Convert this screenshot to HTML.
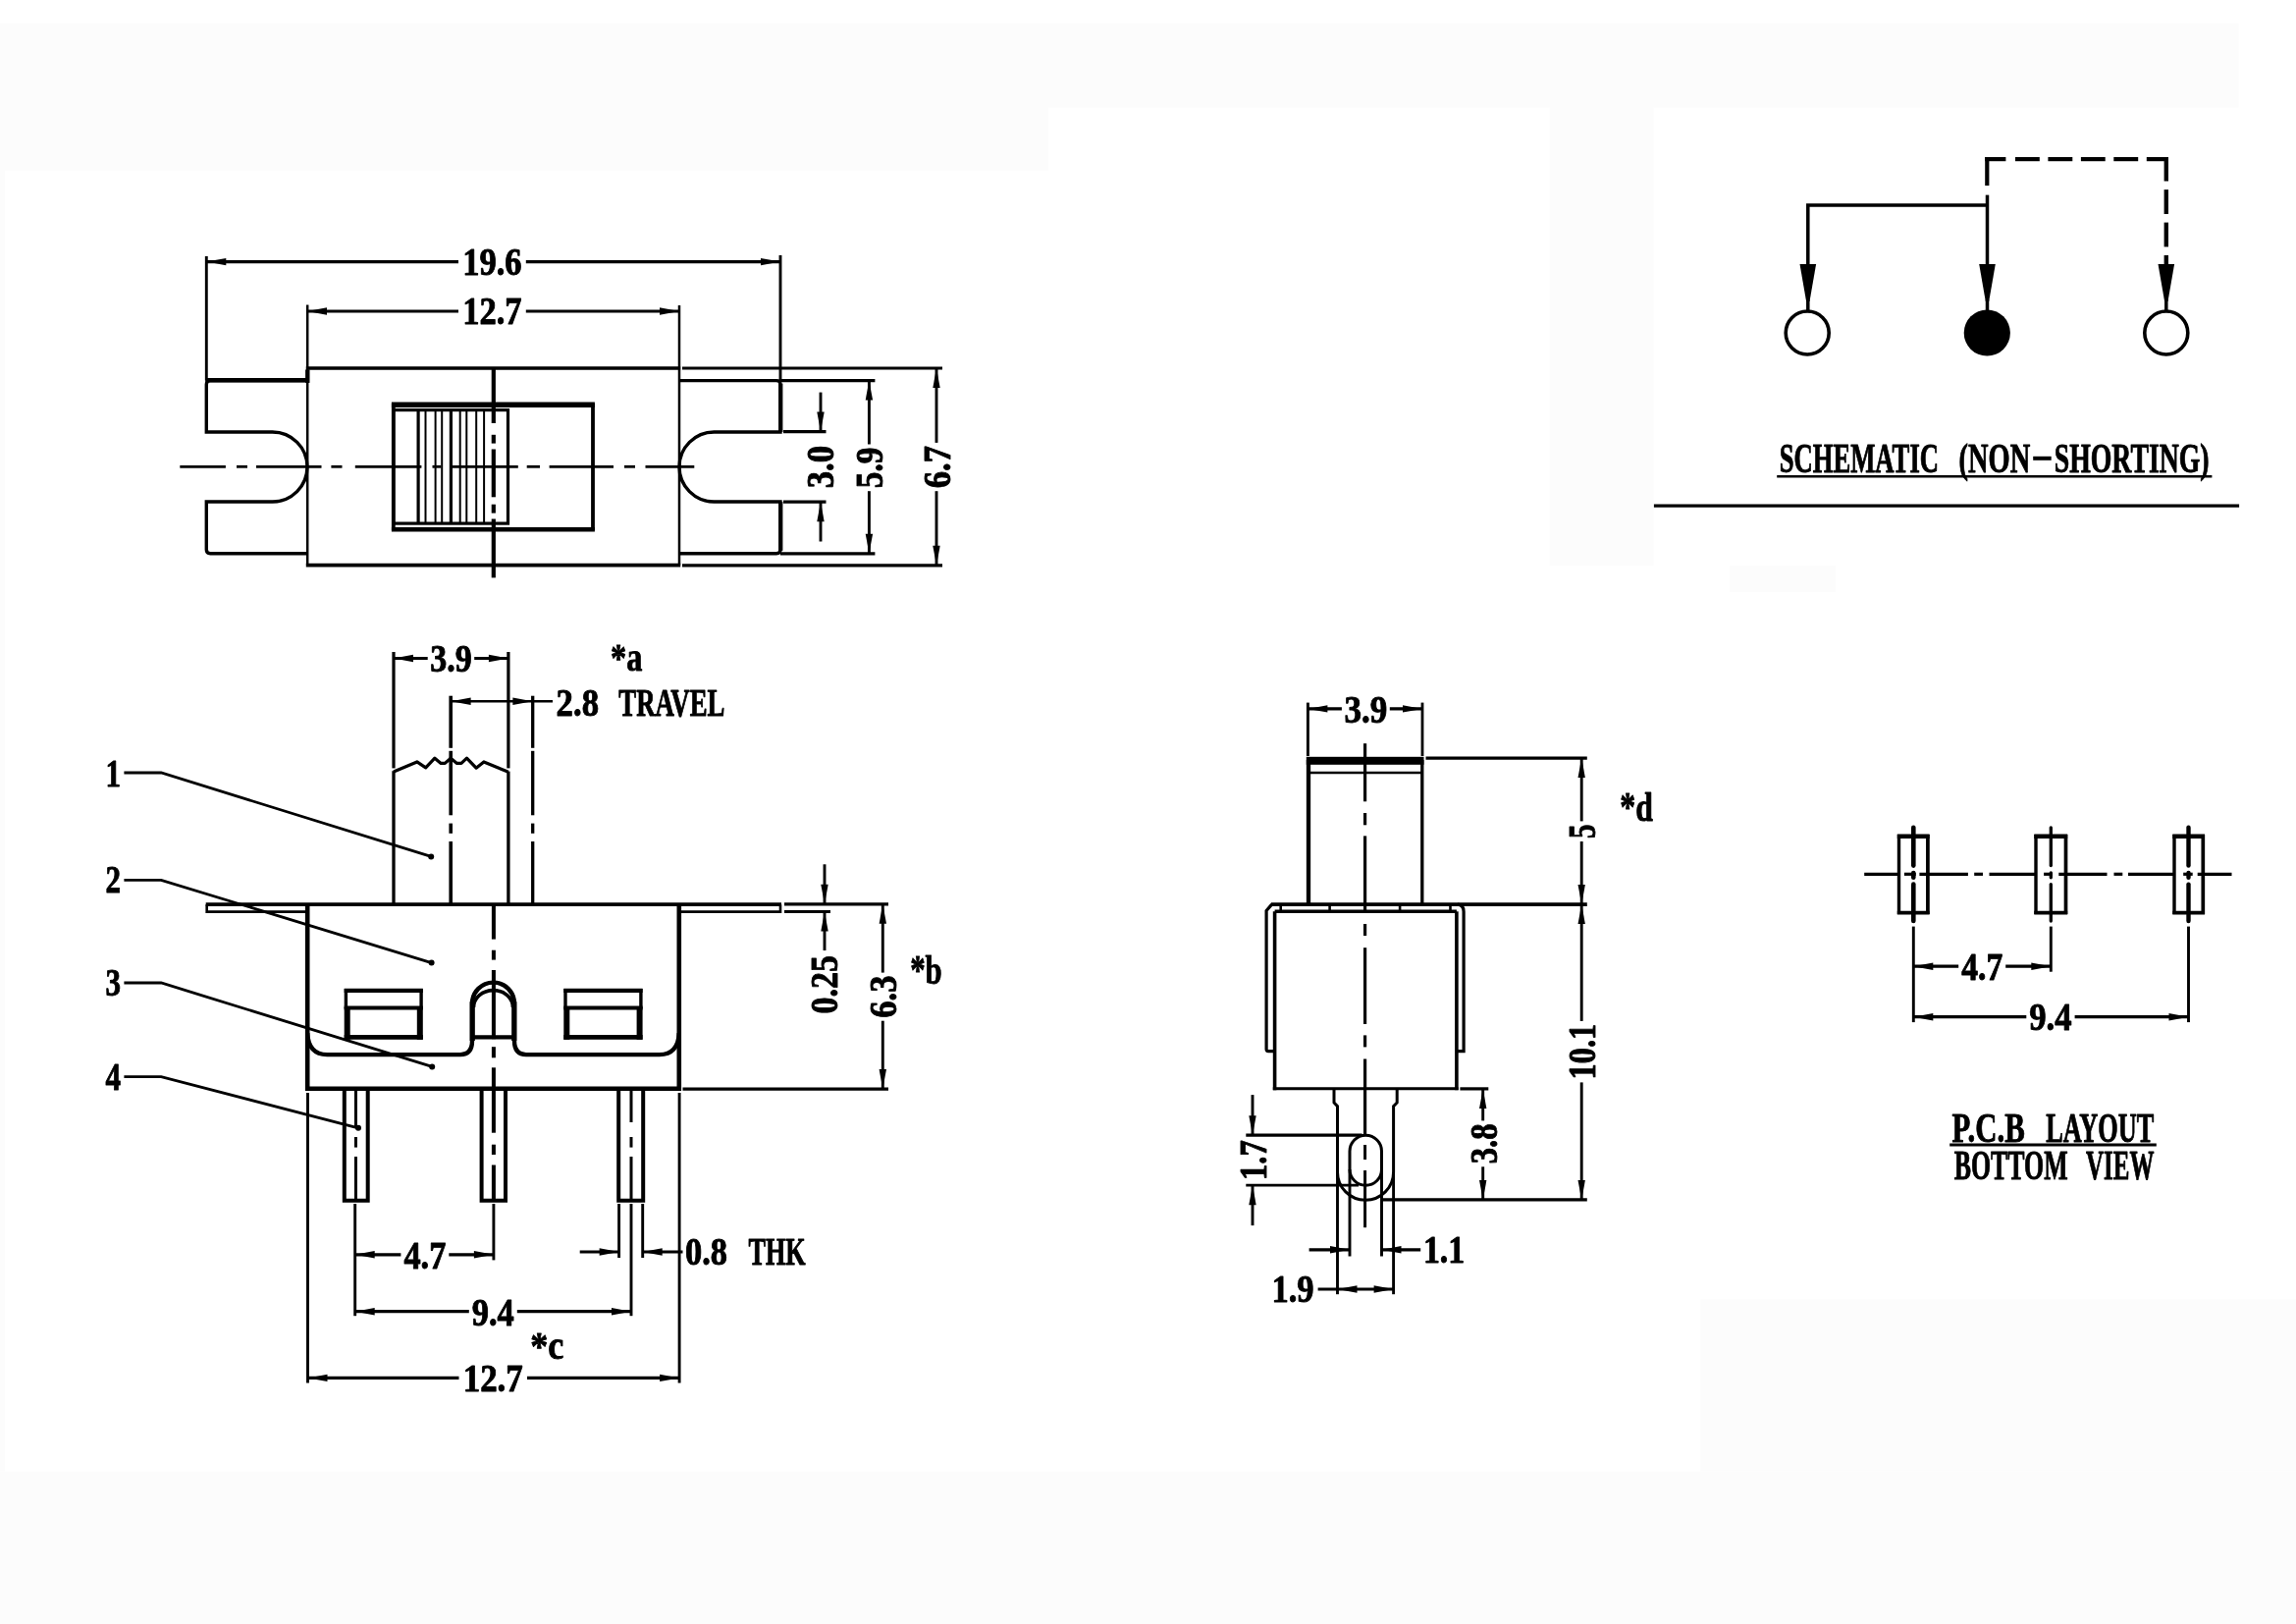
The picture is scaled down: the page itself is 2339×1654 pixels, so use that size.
<!DOCTYPE html>
<html><head><meta charset="utf-8"><title>Slide switch drawing</title>
<style>
html,body{margin:0;padding:0;background:#fff;}
body{width:2339px;height:1654px;overflow:hidden;}
svg{display:block;will-change:transform;}
svg text{font-family:"Liberation Serif",serif;font-weight:bold;fill:#000;stroke:#000;stroke-width:0.9px;stroke-linejoin:round;}
</style></head><body>
<svg width="2339" height="1654" viewBox="0 0 2339 1654" stroke="#000" fill="none" stroke-linecap="butt" stroke-linejoin="miter">
<rect x="0" y="23.7" width="1068" height="149.8" fill="#fcfcfc" stroke="none"/>
<rect x="1068" y="23.7" width="1212.5" height="85.8" fill="#fcfcfc" stroke="none"/>
<rect x="0" y="173.5" width="5" height="1325.1" fill="#fcfcfc" stroke="none"/>
<rect x="1578.6" y="109.5" width="106" height="466.5" fill="#fcfcfc" stroke="none"/>
<rect x="1762.5" y="576" width="107.5" height="27" fill="#fcfcfc" stroke="none"/>
<rect x="1732.4" y="1323.5" width="606.6" height="175.1" fill="#fcfcfc" stroke="none"/>
<rect x="0" y="1498.6" width="2339" height="155.4" fill="#fcfcfc" stroke="none"/>
<!-- top view -->
<line x1="311.8" y1="375" x2="693.2" y2="375" stroke-width="3.7"/>
<line x1="311.8" y1="575.6" x2="693.2" y2="575.6" stroke-width="3.7"/>
<line x1="313.2" y1="310.5" x2="313.2" y2="575.6" stroke-width="2.5"/>
<line x1="692" y1="311" x2="692" y2="575.6" stroke-width="2.5"/>
<path d="M313,387.6 H214.3 Q210.3,387.6 210.3,391.6 V440 H277.5 A35.5,35.5 0 0 1 277.5,511 H210.3 V559.8 Q210.3,563.8 214.3,563.8 H313" stroke-width="3.4" fill="none"/>
<line x1="209.3" y1="387.2" x2="314.5" y2="387.2" stroke-width="4.6"/>
<line x1="313.3" y1="376.5" x2="313.3" y2="389.9" stroke-width="4.4"/>
<path d="M692,387.6 H791 Q795,387.6 795,391.6 V440 H727.5 A35.5,35.5 0 0 0 727.5,511 H795 V559.8 Q795,563.8 791,563.8 H692" stroke-width="3.4" fill="none"/>
<line x1="795.3" y1="390.6" x2="795.3" y2="440" stroke-width="4.2"/>
<line x1="795.3" y1="511" x2="795.3" y2="560.8" stroke-width="4.2"/>
<line x1="398.9" y1="412.2" x2="605.9" y2="412.2" stroke-width="5.4"/>
<line x1="398.9" y1="539.3" x2="605.9" y2="539.3" stroke-width="4.4"/>
<line x1="400.8" y1="411" x2="400.8" y2="540" stroke-width="3.8"/>
<line x1="604" y1="411" x2="604" y2="540" stroke-width="3.8"/>
<rect x="400.8" y="417.6" width="116.7" height="115.5" stroke-width="3.2" fill="none"/>
<line x1="426.1" y1="417.4" x2="426.1" y2="533.3" stroke-width="3.2"/>
<line x1="433.5" y1="417.4" x2="433.5" y2="533.3" stroke-width="2"/>
<line x1="443.6" y1="417.4" x2="443.6" y2="533.3" stroke-width="2"/>
<line x1="450.2" y1="417.4" x2="450.2" y2="533.3" stroke-width="2"/>
<line x1="459.4" y1="417.4" x2="459.4" y2="533.3" stroke-width="3.2"/>
<line x1="468.7" y1="417.4" x2="468.7" y2="533.3" stroke-width="2"/>
<line x1="475.3" y1="417.4" x2="475.3" y2="533.3" stroke-width="2"/>
<line x1="485.2" y1="417.4" x2="485.2" y2="533.3" stroke-width="2"/>
<line x1="493.1" y1="417.4" x2="493.1" y2="533.3" stroke-width="2"/>
<line x1="502.8" y1="375" x2="502.8" y2="431" stroke-width="4.2"/>
<line x1="502.8" y1="442.8" x2="502.8" y2="451.6" stroke-width="4.2"/>
<line x1="502.8" y1="457.5" x2="502.8" y2="506.3" stroke-width="4.2"/>
<line x1="502.8" y1="513.7" x2="502.8" y2="522.6" stroke-width="4.2"/>
<line x1="502.8" y1="528.5" x2="502.8" y2="588.4" stroke-width="4.2"/>
<line x1="183.3" y1="475.3" x2="229.9" y2="475.3" stroke-width="2.8"/>
<line x1="241" y1="475.3" x2="252" y2="475.3" stroke-width="2.8"/>
<line x1="261" y1="475.3" x2="327.5" y2="475.3" stroke-width="2.8"/>
<line x1="337.4" y1="475.3" x2="348.5" y2="475.3" stroke-width="2.8"/>
<line x1="361.8" y1="475.3" x2="429.4" y2="475.3" stroke-width="2.8"/>
<line x1="440.5" y1="475.3" x2="449.4" y2="475.3" stroke-width="2.8"/>
<line x1="458.3" y1="475.3" x2="527.8" y2="475.3" stroke-width="2.8"/>
<line x1="536.7" y1="475.3" x2="550" y2="475.3" stroke-width="2.8"/>
<line x1="559.6" y1="475.3" x2="625" y2="475.3" stroke-width="2.8"/>
<line x1="636" y1="475.3" x2="647" y2="475.3" stroke-width="2.8"/>
<line x1="657.5" y1="475.3" x2="707.3" y2="475.3" stroke-width="2.8"/>
<line x1="210.3" y1="261" x2="210.3" y2="387.6" stroke-width="2.9"/>
<line x1="795" y1="260" x2="795" y2="387.6" stroke-width="2.9"/>
<line x1="210.3" y1="266.6" x2="467" y2="266.6" stroke-width="3.2"/>
<line x1="535.8" y1="266.6" x2="795" y2="266.6" stroke-width="3.2"/>
<polygon points="210.3,266.6 230.3,262.9 230.3,270.3" fill="#000" stroke="none"/>
<polygon points="795,266.6 775,262.9 775,270.3" fill="#000" stroke="none"/>
<text x="471.2" y="280" font-size="39.5" textLength="60.4" lengthAdjust="spacingAndGlyphs">19.6</text>
<line x1="313" y1="317" x2="467" y2="317" stroke-width="3.2"/>
<line x1="535.8" y1="317" x2="692" y2="317" stroke-width="3.2"/>
<polygon points="313,317 333,313.3 333,320.7" fill="#000" stroke="none"/>
<polygon points="692,317 672,313.3 672,320.7" fill="#000" stroke="none"/>
<text x="471.2" y="330" font-size="39.5" textLength="60.4" lengthAdjust="spacingAndGlyphs">12.7</text>
<line x1="695" y1="375" x2="960" y2="375" stroke-width="3.2"/>
<line x1="695" y1="575.8" x2="960" y2="575.8" stroke-width="3.2"/>
<line x1="795" y1="387.6" x2="891.4" y2="387.6" stroke-width="3.2"/>
<line x1="795" y1="563.8" x2="891.4" y2="563.8" stroke-width="3.2"/>
<line x1="798" y1="439.6" x2="841.5" y2="439.6" stroke-width="3.2"/>
<line x1="798" y1="511.2" x2="841.5" y2="511.2" stroke-width="3.2"/>
<line x1="836" y1="399.6" x2="836" y2="439.6" stroke-width="2.9"/>
<polygon points="836,439.6 832.3,419.6 839.7,419.6" fill="#000" stroke="none"/>
<line x1="836" y1="511.2" x2="836" y2="551.5" stroke-width="2.9"/>
<polygon points="836,511.2 832.3,531.2 839.7,531.2" fill="#000" stroke="none"/>
<text transform="translate(849.3 497.2) rotate(-90)" x="0" y="0" font-size="39.5" textLength="43.3" lengthAdjust="spacingAndGlyphs">3.0</text>
<line x1="885.4" y1="387.6" x2="885.4" y2="452.5" stroke-width="2.9"/>
<line x1="885.4" y1="500.2" x2="885.4" y2="563.8" stroke-width="2.9"/>
<polygon points="885.4,387.6 881.7,407.6 889.1,407.6" fill="#000" stroke="none"/>
<polygon points="885.4,563.8 881.7,543.8 889.1,543.8" fill="#000" stroke="none"/>
<text transform="translate(899.2 497.2) rotate(-90)" x="0" y="0" font-size="39.5" textLength="41.7" lengthAdjust="spacingAndGlyphs">5.9</text>
<line x1="954" y1="375" x2="954" y2="450.9" stroke-width="2.9"/>
<line x1="954" y1="500.2" x2="954" y2="575.8" stroke-width="2.9"/>
<polygon points="954,375 950.3,395 957.7,395" fill="#000" stroke="none"/>
<polygon points="954,575.8 950.3,555.8 957.7,555.8" fill="#000" stroke="none"/>
<text transform="translate(968 497.2) rotate(-90)" x="0" y="0" font-size="39.5" textLength="43.3" lengthAdjust="spacingAndGlyphs">6.7</text>
<!-- front view -->
<path d="M313.2,921.2 V1108.8 H691.8 V921.2" stroke-width="4.6" fill="none"/>
<line x1="209.7" y1="921.2" x2="796" y2="921.2" stroke-width="3.8"/>
<path d="M210.7,921.2 V928.6 H313.2" stroke-width="2.6" fill="none"/>
<path d="M795,921.2 V928.6 H691.8" stroke-width="2.6" fill="none"/>
<line x1="401" y1="664" x2="401" y2="782.4" stroke-width="3.2"/>
<line x1="517.9" y1="664" x2="517.9" y2="782.4" stroke-width="3.2"/>
<line x1="401" y1="785.2" x2="401" y2="921.2" stroke-width="3.3"/>
<line x1="517.9" y1="785.6" x2="517.9" y2="921.2" stroke-width="3.3"/>
<polyline points="401,785.9 424.8,775.9 433.7,781.8 442.9,772.2 449.2,777.4 453.3,777.4 459.2,772.2 465.5,777.4 470,777.4 475.5,772.2 485.1,782.2 492.9,775.9 517.9,786.3" fill="none" stroke-width="3.2" stroke-linejoin="round"/>
<line x1="459.2" y1="708.7" x2="459.2" y2="761.8" stroke-width="3.6"/>
<line x1="459.2" y1="764.8" x2="459.2" y2="830.3" stroke-width="3.6"/>
<line x1="459.2" y1="838.6" x2="459.2" y2="848.8" stroke-width="3.6"/>
<line x1="459.2" y1="857" x2="459.2" y2="921.2" stroke-width="3.6"/>
<line x1="542.7" y1="708.7" x2="542.7" y2="761.8" stroke-width="3.3"/>
<line x1="542.7" y1="764.8" x2="542.7" y2="830.3" stroke-width="3.3"/>
<line x1="542.7" y1="838.6" x2="542.7" y2="848.8" stroke-width="3.3"/>
<line x1="542.7" y1="857" x2="542.7" y2="921.2" stroke-width="3.3"/>
<line x1="401" y1="670.5" x2="435.7" y2="670.5" stroke-width="3.2"/>
<line x1="483.2" y1="670.5" x2="517.9" y2="670.5" stroke-width="3.2"/>
<polygon points="401,670.5 421,666.8 421,674.2" fill="#000" stroke="none"/>
<polygon points="517.9,670.5 497.9,666.8 497.9,674.2" fill="#000" stroke="none"/>
<text x="438.2" y="684" font-size="39.5" textLength="42.5" lengthAdjust="spacingAndGlyphs">3.9</text>
<line x1="459.2" y1="714.2" x2="563" y2="714.2" stroke-width="2.4"/>
<polygon points="459.6,714.2 479.6,710.5 479.6,717.9" fill="#000" stroke="none"/>
<polygon points="542.4,714.2 522.4,710.5 522.4,717.9" fill="#000" stroke="none"/>
<text x="566.6" y="728.7" font-size="39.5" textLength="43.4" lengthAdjust="spacingAndGlyphs">2.8</text>
<text x="630.3" y="728.7" font-size="39.5" textLength="108.1" lengthAdjust="spacingAndGlyphs">TRAVEL</text>
<text x="622" y="683.4" font-size="41" textLength="32.3" lengthAdjust="spacingAndGlyphs">*a</text>
<line x1="502.9" y1="921.2" x2="502.9" y2="956.6" stroke-width="4"/>
<line x1="502.9" y1="967.7" x2="502.9" y2="977.6" stroke-width="4"/>
<line x1="502.9" y1="988" x2="502.9" y2="1058.2" stroke-width="4"/>
<line x1="502.9" y1="1066.2" x2="502.9" y2="1077.3" stroke-width="4"/>
<line x1="502.9" y1="1087.3" x2="502.9" y2="1153.7" stroke-width="4"/>
<line x1="502.9" y1="1165.7" x2="502.9" y2="1176" stroke-width="4"/>
<line x1="502.9" y1="1186.5" x2="502.9" y2="1221" stroke-width="4"/>
<line x1="502.9" y1="1226" x2="502.9" y2="1283.4" stroke-width="2.9"/>
<line x1="350.7" y1="1008.9" x2="430.8" y2="1008.9" stroke-width="4.4"/>
<line x1="350.7" y1="1026.4" x2="430.8" y2="1026.4" stroke-width="4"/>
<line x1="350.7" y1="1056.4" x2="430.8" y2="1056.4" stroke-width="4.8"/>
<line x1="352.4" y1="1007" x2="352.4" y2="1027" stroke-width="3.4"/>
<line x1="429.1" y1="1007" x2="429.1" y2="1027" stroke-width="3.4"/>
<line x1="353.7" y1="1026" x2="353.7" y2="1058.8" stroke-width="6"/>
<line x1="427.8" y1="1026" x2="427.8" y2="1058.8" stroke-width="6"/>
<line x1="574.3" y1="1008.9" x2="654.6" y2="1008.9" stroke-width="4.4"/>
<line x1="574.3" y1="1026.4" x2="654.6" y2="1026.4" stroke-width="4"/>
<line x1="574.3" y1="1056.4" x2="654.6" y2="1056.4" stroke-width="4.8"/>
<line x1="576" y1="1007" x2="576" y2="1027" stroke-width="3.4"/>
<line x1="652.9" y1="1007" x2="652.9" y2="1027" stroke-width="3.4"/>
<line x1="577.3" y1="1026" x2="577.3" y2="1058.8" stroke-width="6"/>
<line x1="651.6" y1="1026" x2="651.6" y2="1058.8" stroke-width="6"/>
<path d="M313.2,1052 Q314.2,1074.1 333.2,1074.1 H469 Q481,1074.1 481,1060.1 V1022.1 A21.5,21.5 0 0 1 524,1022.1 V1060.1 Q524,1074.1 536,1074.1 H671.8 Q690.8,1074.1 691.8,1052" stroke-width="4.4" fill="none"/>
<line x1="481.2" y1="1020.1" x2="481.2" y2="1060" stroke-width="5.2"/>
<line x1="523.8" y1="1020.1" x2="523.8" y2="1060" stroke-width="5.2"/>
<path d="M482.5,1026 A20,17.4 0 0 1 522.5,1026" stroke-width="3.6" fill="none"/>
<line x1="481" y1="1056.3" x2="524" y2="1056.3" stroke-width="4.2"/>
<path d="M350.8,1108.8 V1222.8 H374.7 V1108.8" stroke-width="4" fill="none"/>
<path d="M490.6,1108.8 V1222.8 H515 V1108.8" stroke-width="4" fill="none"/>
<path d="M630.2,1108.8 V1222.8 H655.2 V1108.8" stroke-width="4" fill="none"/>
<line x1="362.5" y1="1108.8" x2="362.5" y2="1147" stroke-width="3"/>
<line x1="362.5" y1="1158" x2="362.5" y2="1168.6" stroke-width="3"/>
<line x1="362.5" y1="1178" x2="362.5" y2="1221" stroke-width="3"/>
<line x1="643" y1="1108.8" x2="643" y2="1143" stroke-width="3"/>
<line x1="643" y1="1158" x2="643" y2="1168.6" stroke-width="3"/>
<line x1="643" y1="1178" x2="643" y2="1221" stroke-width="3"/>
<path d="M126.4,787 H164.2 L439.2,872.4" stroke-width="2.8" fill="none"/>
<circle cx="439.2" cy="872.4" r="3" fill="#000" stroke="none"/>
<text x="107.5" y="801" font-size="39.5" textLength="15.5" lengthAdjust="spacingAndGlyphs">1</text>
<path d="M126.4,896.3 H164.2 L439.6,980.6" stroke-width="2.8" fill="none"/>
<circle cx="439.6" cy="980.6" r="3" fill="#000" stroke="none"/>
<text x="107.5" y="909" font-size="39.5" textLength="15.5" lengthAdjust="spacingAndGlyphs">2</text>
<path d="M126.4,1001 H164.2 L440.2,1086.4" stroke-width="2.8" fill="none"/>
<circle cx="440.2" cy="1086.4" r="3" fill="#000" stroke="none"/>
<text x="107.5" y="1014.3" font-size="39.5" textLength="15.5" lengthAdjust="spacingAndGlyphs">3</text>
<path d="M126.4,1096.7 H164.2 L365,1148.8" stroke-width="2.8" fill="none"/>
<circle cx="365" cy="1148.8" r="3" fill="#000" stroke="none"/>
<text x="107.5" y="1110" font-size="39.5" textLength="15.5" lengthAdjust="spacingAndGlyphs">4</text>
<line x1="313.5" y1="1113" x2="313.5" y2="1408.4" stroke-width="2.9"/>
<line x1="692.1" y1="1113" x2="692.1" y2="1408.4" stroke-width="2.9"/>
<line x1="361.7" y1="1226" x2="361.7" y2="1340.2" stroke-width="2.9"/>
<line x1="643" y1="1226" x2="643" y2="1340.2" stroke-width="2.9"/>
<line x1="630.6" y1="1226" x2="630.6" y2="1281" stroke-width="2.9"/>
<line x1="654.7" y1="1226" x2="654.7" y2="1281" stroke-width="2.9"/>
<line x1="361.7" y1="1277.8" x2="408.4" y2="1277.8" stroke-width="3.2"/>
<line x1="457.3" y1="1277.8" x2="502.9" y2="1277.8" stroke-width="3.2"/>
<polygon points="361.7,1277.8 381.7,1274.1 381.7,1281.5" fill="#000" stroke="none"/>
<polygon points="502.9,1277.8 482.9,1274.1 482.9,1281.5" fill="#000" stroke="none"/>
<text x="411.4" y="1291.5" font-size="39.5" textLength="42.9" lengthAdjust="spacingAndGlyphs">4.7</text>
<line x1="590.7" y1="1275" x2="630.6" y2="1275" stroke-width="3.2"/>
<polygon points="630.6,1275 610.6,1271.3 610.6,1278.7" fill="#000" stroke="none"/>
<line x1="654.7" y1="1275" x2="695.5" y2="1275" stroke-width="3.2"/>
<polygon points="654.7,1275 674.7,1271.3 674.7,1278.7" fill="#000" stroke="none"/>
<text x="698" y="1288.4" font-size="39.5" textLength="43" lengthAdjust="spacingAndGlyphs">0.8</text>
<text x="762.5" y="1288.4" font-size="39.5" textLength="58.1" lengthAdjust="spacingAndGlyphs">THK</text>
<line x1="361.7" y1="1335.7" x2="477.8" y2="1335.7" stroke-width="3.2"/>
<line x1="526.8" y1="1335.7" x2="643" y2="1335.7" stroke-width="3.2"/>
<polygon points="361.7,1335.7 381.7,1332 381.7,1339.4" fill="#000" stroke="none"/>
<polygon points="643,1335.7 623,1332 623,1339.4" fill="#000" stroke="none"/>
<text x="480.8" y="1349.6" font-size="39.5" textLength="43" lengthAdjust="spacingAndGlyphs">9.4</text>
<text x="540.2" y="1384" font-size="41" textLength="34.1" lengthAdjust="spacingAndGlyphs">*c</text>
<line x1="313.5" y1="1403.4" x2="467.5" y2="1403.4" stroke-width="3.2"/>
<line x1="537" y1="1403.4" x2="692.1" y2="1403.4" stroke-width="3.2"/>
<polygon points="313.5,1403.4 333.5,1399.7 333.5,1407.1" fill="#000" stroke="none"/>
<polygon points="692.1,1403.4 672.1,1399.7 672.1,1407.1" fill="#000" stroke="none"/>
<text x="471.7" y="1417" font-size="39.5" textLength="61.1" lengthAdjust="spacingAndGlyphs">12.7</text>
<line x1="799" y1="920.8" x2="905" y2="920.8" stroke-width="3.2"/>
<line x1="799" y1="928.5" x2="846" y2="928.5" stroke-width="3.2"/>
<line x1="695.5" y1="1109.1" x2="905" y2="1109.1" stroke-width="3.2"/>
<line x1="840" y1="880.3" x2="840" y2="920.8" stroke-width="2.9"/>
<polygon points="840,920.8 836.3,900.8 843.7,900.8" fill="#000" stroke="none"/>
<line x1="840" y1="928.5" x2="840" y2="968" stroke-width="2.9"/>
<polygon points="840,928.5 836.3,948.5 843.7,948.5" fill="#000" stroke="none"/>
<text transform="translate(853.3 1032.4) rotate(-90)" x="0" y="0" font-size="39.5" textLength="59.4" lengthAdjust="spacingAndGlyphs">0.25</text>
<line x1="899.3" y1="920.8" x2="899.3" y2="990.6" stroke-width="2.9"/>
<line x1="899.3" y1="1039.7" x2="899.3" y2="1109.1" stroke-width="2.9"/>
<polygon points="899.3,920.8 895.6,940.8 903,940.8" fill="#000" stroke="none"/>
<polygon points="899.3,1109.1 895.6,1089.1 903,1089.1" fill="#000" stroke="none"/>
<text transform="translate(912.8 1036.7) rotate(-90)" x="0" y="0" font-size="39.5" textLength="43.1" lengthAdjust="spacingAndGlyphs">6.3</text>
<text x="927.2" y="1002.4" font-size="43" textLength="32.5" lengthAdjust="spacingAndGlyphs">*b</text>
<!-- side view -->
<line x1="1332.4" y1="715.6" x2="1332.4" y2="770" stroke-width="2.9"/>
<line x1="1449" y1="715.6" x2="1449" y2="770" stroke-width="2.8"/>
<line x1="1332.4" y1="721.9" x2="1366.9" y2="721.9" stroke-width="3.2"/>
<line x1="1415.8" y1="721.9" x2="1449" y2="721.9" stroke-width="3.2"/>
<polygon points="1332.4,721.9 1352.4,718.2 1352.4,725.6" fill="#000" stroke="none"/>
<polygon points="1449,721.9 1429,718.2 1429,725.6" fill="#000" stroke="none"/>
<text x="1369.4" y="735.8" font-size="39.5" textLength="43.9" lengthAdjust="spacingAndGlyphs">3.9</text>
<rect x="1330.8" y="770.8" width="119.7" height="8" fill="#000" stroke="none"/>
<line x1="1333" y1="774" x2="1333" y2="921.1" stroke-width="4.3"/>
<line x1="1448.8" y1="774" x2="1448.8" y2="921.1" stroke-width="3.3"/>
<line x1="1333" y1="787" x2="1448.8" y2="787" stroke-width="2.5"/>
<line x1="1294.8" y1="921.1" x2="1616.8" y2="921.1" stroke-width="3.6"/>
<line x1="1298.6" y1="928.3" x2="1483.9" y2="928.3" stroke-width="3.4"/>
<line x1="1304.7" y1="921.1" x2="1304.7" y2="928.3" stroke-width="2.6"/>
<line x1="1354.6" y1="921.1" x2="1354.6" y2="928.3" stroke-width="2.6"/>
<line x1="1426.1" y1="921.1" x2="1426.1" y2="928.3" stroke-width="2.6"/>
<line x1="1477.5" y1="921.1" x2="1477.5" y2="928.3" stroke-width="2.6"/>
<path d="M1295.6,921.1 L1290.1,927.5 V1068.5 Q1290.1,1070.6 1292.1,1070.6 H1298.6" stroke-width="3.2" fill="none"/>
<path d="M1484.9,921.1 Q1491.1,921.6 1491.1,928.5 V1070.6 H1483.9" stroke-width="3.2" fill="none"/>
<line x1="1298.6" y1="928.3" x2="1298.6" y2="1110.2" stroke-width="3.6"/>
<line x1="1483.9" y1="928.3" x2="1483.9" y2="1110.2" stroke-width="3.6"/>
<line x1="1296.8" y1="1108.7" x2="1485.7" y2="1108.7" stroke-width="3"/>
<line x1="1390.6" y1="757.2" x2="1390.6" y2="816.3" stroke-width="3.2"/>
<line x1="1390.6" y1="828" x2="1390.6" y2="840.3" stroke-width="3.2"/>
<line x1="1390.6" y1="851.4" x2="1390.6" y2="927.6" stroke-width="3.2"/>
<line x1="1390.6" y1="941" x2="1390.6" y2="953" stroke-width="3.2"/>
<line x1="1390.6" y1="965.2" x2="1390.6" y2="1043" stroke-width="3.2"/>
<line x1="1390.6" y1="1054.4" x2="1390.6" y2="1066.4" stroke-width="3.2"/>
<line x1="1390.6" y1="1078.5" x2="1390.6" y2="1156" stroke-width="3.2"/>
<line x1="1390.6" y1="1166" x2="1390.6" y2="1181" stroke-width="3"/>
<line x1="1390.6" y1="1192" x2="1390.6" y2="1250.2" stroke-width="3"/>
<path d="M1359,1108.7 V1123 L1362.5,1126.6 V1193.7 A28.5,28.5 0 0 0 1419.6,1193.7 V1126.6 L1423.2,1123 V1108.7" stroke-width="3" fill="none"/>
<line x1="1362.5" y1="1193.7" x2="1362.5" y2="1318.2" stroke-width="2.9"/>
<line x1="1419.6" y1="1193.7" x2="1419.6" y2="1318.2" stroke-width="2.9"/>
<path d="M1375,1172.5 A16.2,16.2 0 0 1 1407.5,1172.5 V1191 A16.2,16.2 0 0 1 1375,1191 Z" stroke-width="3" fill="none"/>
<line x1="1375" y1="1191" x2="1375" y2="1279.5" stroke-width="2.9"/>
<line x1="1407.5" y1="1191" x2="1407.5" y2="1279.5" stroke-width="2.9"/>
<line x1="1269.3" y1="1156.2" x2="1387.6" y2="1156.2" stroke-width="3.2"/>
<line x1="1269.3" y1="1207.2" x2="1384" y2="1207.2" stroke-width="2.8"/>
<line x1="1276" y1="1115.1" x2="1276" y2="1156.2" stroke-width="2.9"/>
<polygon points="1276,1156.2 1272.3,1136.2 1279.7,1136.2" fill="#000" stroke="none"/>
<line x1="1276" y1="1207.2" x2="1276" y2="1248.1" stroke-width="2.9"/>
<polygon points="1276,1207.2 1272.3,1227.2 1279.7,1227.2" fill="#000" stroke="none"/>
<text transform="translate(1290.2 1202) rotate(-90)" x="0" y="0" font-size="39.5" textLength="40.8" lengthAdjust="spacingAndGlyphs">1.7</text>
<line x1="1487.4" y1="1108.9" x2="1516.3" y2="1108.9" stroke-width="3.2"/>
<line x1="1510.7" y1="1108.9" x2="1510.7" y2="1141.4" stroke-width="2.9"/>
<line x1="1510.7" y1="1188.3" x2="1510.7" y2="1221.9" stroke-width="2.9"/>
<polygon points="1510.7,1108.9 1507,1128.9 1514.4,1128.9" fill="#000" stroke="none"/>
<polygon points="1510.7,1221.9 1507,1201.9 1514.4,1201.9" fill="#000" stroke="none"/>
<text transform="translate(1524.7 1185.3) rotate(-90)" x="0" y="0" font-size="39.5" textLength="40.9" lengthAdjust="spacingAndGlyphs">3.8</text>
<line x1="1407.5" y1="1221.9" x2="1616.8" y2="1221.9" stroke-width="3.2"/>
<line x1="1452.5" y1="772.1" x2="1616.8" y2="772.1" stroke-width="3.2"/>
<line x1="1611.2" y1="772.1" x2="1611.2" y2="836.4" stroke-width="2.9"/>
<line x1="1611.2" y1="857" x2="1611.2" y2="921.1" stroke-width="2.9"/>
<polygon points="1611.2,772.1 1607.5,792.1 1614.9,792.1" fill="#000" stroke="none"/>
<polygon points="1611.2,921.1 1607.5,901.1 1614.9,901.1" fill="#000" stroke="none"/>
<text transform="translate(1624.6 854) rotate(-90)" x="0" y="0" font-size="39.5" textLength="14.6" lengthAdjust="spacingAndGlyphs">5</text>
<line x1="1611.2" y1="921.1" x2="1611.2" y2="1039.9" stroke-width="2.9"/>
<line x1="1611.2" y1="1102.4" x2="1611.2" y2="1221.9" stroke-width="2.9"/>
<polygon points="1611.2,921.1 1607.5,941.1 1614.9,941.1" fill="#000" stroke="none"/>
<polygon points="1611.2,1221.9 1607.5,1201.9 1614.9,1201.9" fill="#000" stroke="none"/>
<text transform="translate(1625 1099.4) rotate(-90)" x="0" y="0" font-size="39.5" textLength="56.5" lengthAdjust="spacingAndGlyphs">10.1</text>
<text x="1650.3" y="836" font-size="43" textLength="33.5" lengthAdjust="spacingAndGlyphs">*d</text>
<line x1="1333.6" y1="1272.8" x2="1375" y2="1272.8" stroke-width="3.2"/>
<polygon points="1375,1272.8 1355,1269.1 1355,1276.5" fill="#000" stroke="none"/>
<line x1="1407.5" y1="1272.8" x2="1447.2" y2="1272.8" stroke-width="3.2"/>
<polygon points="1407.5,1272.8 1427.5,1269.1 1427.5,1276.5" fill="#000" stroke="none"/>
<text x="1449.9" y="1285.7" font-size="39.5" textLength="42.3" lengthAdjust="spacingAndGlyphs">1.1</text>
<line x1="1342.6" y1="1313" x2="1419.6" y2="1313" stroke-width="3.2"/>
<polygon points="1362.5,1313 1382.5,1309.3 1382.5,1316.7" fill="#000" stroke="none"/>
<polygon points="1419.6,1313 1399.6,1309.3 1399.6,1316.7" fill="#000" stroke="none"/>
<text x="1295.4" y="1325.5" font-size="39.5" textLength="43.2" lengthAdjust="spacingAndGlyphs">1.9</text>
<!-- schematic -->
<circle cx="1841.2" cy="339" r="22" fill="none" stroke-width="3.6"/>
<circle cx="2206.8" cy="339" r="22" fill="none" stroke-width="3.6"/>
<circle cx="2024.3" cy="339" r="23.6" fill="#000" stroke="none"/>
<path d="M1841.8,270 V208.9 H2024.3" stroke-width="3.5" fill="none"/>
<line x1="2024.5" y1="198.6" x2="2024.5" y2="270" stroke-width="3.5"/>
<line x1="2024.3" y1="160" x2="2024.3" y2="189" stroke-width="4.2"/>
<line x1="2022.2" y1="162.1" x2="2043.4" y2="162.1" stroke-width="4.2"/>
<line x1="2053" y1="162.1" x2="2077.8" y2="162.1" stroke-width="4.2"/>
<line x1="2086.4" y1="162.1" x2="2111.3" y2="162.1" stroke-width="4.2"/>
<line x1="2119.9" y1="162.1" x2="2144.7" y2="162.1" stroke-width="4.2"/>
<line x1="2153.3" y1="162.1" x2="2178.2" y2="162.1" stroke-width="4.2"/>
<line x1="2186.8" y1="162.1" x2="2208.9" y2="162.1" stroke-width="4.2"/>
<line x1="2206.8" y1="160" x2="2206.8" y2="184.5" stroke-width="4.4"/>
<line x1="2206.8" y1="193.1" x2="2206.8" y2="218" stroke-width="4.4"/>
<line x1="2206.8" y1="226.6" x2="2206.8" y2="251.4" stroke-width="4.4"/>
<line x1="2206.8" y1="260" x2="2206.8" y2="272" stroke-width="4.4"/>
<polygon points="1833.5,268.9 1850.1,268.9 1843.5,307 1840.1,307" fill="#000" stroke="none"/>
<line x1="1841.8" y1="305" x2="1841.8" y2="316.5" stroke-width="3.5"/>
<polygon points="2016.2,268.9 2032.8,268.9 2026.2,307 2022.8,307" fill="#000" stroke="none"/>
<line x1="2024.5" y1="305" x2="2024.5" y2="316.5" stroke-width="3.5"/>
<polygon points="2198.5,268.9 2215.1,268.9 2208.5,307 2205.1,307" fill="#000" stroke="none"/>
<line x1="2206.8" y1="305" x2="2206.8" y2="316.5" stroke-width="3.5"/>
<text x="1812.7" y="481" font-size="42.5" textLength="162.3" lengthAdjust="spacingAndGlyphs">SCHEMATIC</text>
<text x="1995.5" y="481" font-size="42.5" textLength="72.7" lengthAdjust="spacingAndGlyphs">(NON</text>
<rect x="2071.2" y="464.8" width="18.5" height="4.0" fill="#000" stroke="none"/>
<text x="2092.7" y="481" font-size="42.5" textLength="157.9" lengthAdjust="spacingAndGlyphs">SHORTING)</text>
<line x1="1810.2" y1="485.2" x2="2253.4" y2="485.2" stroke-width="2.6"/>
<line x1="1684.9" y1="515.2" x2="2281.1" y2="515.2" stroke-width="3.2"/>
<!-- pcb layout -->
<line x1="1932.8" y1="851.7" x2="1965.6" y2="851.7" stroke-width="4.6"/>
<line x1="1932.8" y1="929.7" x2="1965.6" y2="929.7" stroke-width="3.8"/>
<line x1="1934.5" y1="850" x2="1934.5" y2="931" stroke-width="3.4"/>
<line x1="1963.9" y1="850" x2="1963.9" y2="931" stroke-width="3.7"/>
<line x1="1949.3" y1="842.8" x2="1949.3" y2="881.6" stroke-width="4.6" stroke-linecap="round"/>
<line x1="1949.3" y1="889" x2="1949.3" y2="893.8" stroke-width="4.6" stroke-linecap="round"/>
<line x1="1949.3" y1="900.6" x2="1949.3" y2="938" stroke-width="4.6" stroke-linecap="round"/>
<line x1="2072.3" y1="851.7" x2="2106.2" y2="851.7" stroke-width="4.6"/>
<line x1="2072.3" y1="929.7" x2="2106.2" y2="929.7" stroke-width="3.8"/>
<line x1="2074" y1="850" x2="2074" y2="931" stroke-width="3.4"/>
<line x1="2104.5" y1="850" x2="2104.5" y2="931" stroke-width="3.7"/>
<line x1="2089.3" y1="842.8" x2="2089.3" y2="881.6" stroke-width="3.3" stroke-linecap="round"/>
<line x1="2089.3" y1="889" x2="2089.3" y2="893.8" stroke-width="3.3" stroke-linecap="round"/>
<line x1="2089.3" y1="900.6" x2="2089.3" y2="938" stroke-width="3.3" stroke-linecap="round"/>
<line x1="2213.3" y1="851.7" x2="2246" y2="851.7" stroke-width="4.6"/>
<line x1="2213.3" y1="929.7" x2="2246" y2="929.7" stroke-width="3.8"/>
<line x1="2215" y1="850" x2="2215" y2="931" stroke-width="3.4"/>
<line x1="2244.3" y1="850" x2="2244.3" y2="931" stroke-width="3.7"/>
<line x1="2229.5" y1="842.8" x2="2229.5" y2="881.6" stroke-width="4.4" stroke-linecap="round"/>
<line x1="2229.5" y1="889" x2="2229.5" y2="893.8" stroke-width="4.4" stroke-linecap="round"/>
<line x1="2229.5" y1="900.6" x2="2229.5" y2="938" stroke-width="4.4" stroke-linecap="round"/>
<line x1="1899.2" y1="890.3" x2="1933" y2="890.3" stroke-width="3.2"/>
<line x1="1939.9" y1="890.3" x2="1951.7" y2="890.3" stroke-width="3.2"/>
<line x1="1955.4" y1="890.3" x2="2004.9" y2="890.3" stroke-width="3.2"/>
<line x1="2011.2" y1="890.3" x2="2020" y2="890.3" stroke-width="3.2"/>
<line x1="2026.5" y1="890.3" x2="2073" y2="890.3" stroke-width="3.2"/>
<line x1="2082.1" y1="890.3" x2="2090.9" y2="890.3" stroke-width="3.2"/>
<line x1="2097.3" y1="890.3" x2="2146.5" y2="890.3" stroke-width="3.2"/>
<line x1="2153.5" y1="890.3" x2="2162.3" y2="890.3" stroke-width="3.2"/>
<line x1="2168" y1="890.3" x2="2216" y2="890.3" stroke-width="3.2"/>
<line x1="2224.2" y1="890.3" x2="2233.7" y2="890.3" stroke-width="3.2"/>
<line x1="2238.7" y1="890.3" x2="2273.5" y2="890.3" stroke-width="3.2"/>
<line x1="1949.3" y1="943.6" x2="1949.3" y2="1041.1" stroke-width="2.9"/>
<line x1="2089.3" y1="943.6" x2="2089.3" y2="989.7" stroke-width="2.9"/>
<line x1="2229.5" y1="943.6" x2="2229.5" y2="1041.1" stroke-width="2.9"/>
<line x1="1949.3" y1="984.2" x2="1995.2" y2="984.2" stroke-width="3.2"/>
<line x1="2043.2" y1="984.2" x2="2089.3" y2="984.2" stroke-width="3.2"/>
<polygon points="1949.3,984.2 1969.3,980.5 1969.3,987.9" fill="#000" stroke="none"/>
<polygon points="2089.3,984.2 2069.3,980.5 2069.3,987.9" fill="#000" stroke="none"/>
<text x="1998.2" y="997.6" font-size="39.5" textLength="42" lengthAdjust="spacingAndGlyphs">4.7</text>
<line x1="1949.3" y1="1035.7" x2="2064.3" y2="1035.7" stroke-width="3.2"/>
<line x1="2113.6" y1="1035.7" x2="2229.5" y2="1035.7" stroke-width="3.2"/>
<polygon points="1949.3,1035.7 1969.3,1032 1969.3,1039.4" fill="#000" stroke="none"/>
<polygon points="2229.5,1035.7 2209.5,1032 2209.5,1039.4" fill="#000" stroke="none"/>
<text x="2067.3" y="1049.2" font-size="39.5" textLength="43.3" lengthAdjust="spacingAndGlyphs">9.4</text>
<text x="1988.6" y="1162.6" font-size="42.5" textLength="74.2" lengthAdjust="spacingAndGlyphs">P.C.B</text>
<text x="2084.2" y="1162.6" font-size="42.5" textLength="110.2" lengthAdjust="spacingAndGlyphs">LAYOUT</text>
<line x1="1986.2" y1="1166" x2="2196.8" y2="1166" stroke-width="3.2"/>
<text x="1990.7" y="1200.6" font-size="42.5" textLength="115.9" lengthAdjust="spacingAndGlyphs">BOTTOM</text>
<text x="2125" y="1200.6" font-size="42.5" textLength="69.4" lengthAdjust="spacingAndGlyphs">VIEW</text>
</svg>
</body></html>
